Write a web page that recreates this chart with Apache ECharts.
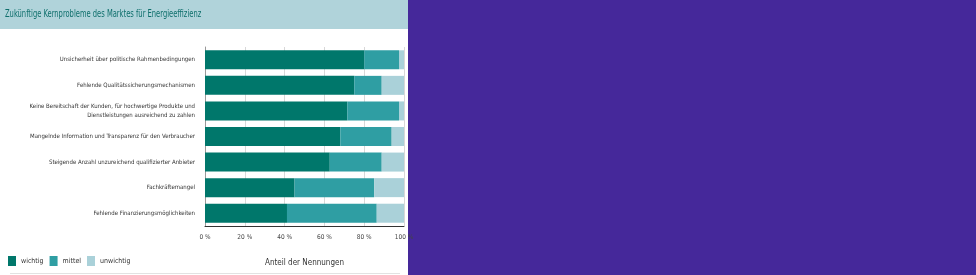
<!DOCTYPE html>
<html><head><meta charset="utf-8">
<script src="https://cdn.jsdelivr.net/npm/echarts@6/dist/echarts.min.js"></script>
<style>html,body{margin:0;padding:0;background:#45289a;}#c{width:976px;height:275px;}</style>
</head><body><div id="c"></div>
<script>
const categories = [
  "Unsicherheit über politische Rahmenbedingungen",
  "Fehlende Qualitätssicherungsmechanismen",
  "Keine Bereitschaft der Kunden, für hochwertige Produkte und\nDienstleistungen ausreichend zu zahlen",
  "Mangelnde Information und Transparenz für den Verbraucher",
  "Steigende Anzahl unzureichend qualifizierter Anbieter",
  "Fachkräftemangel",
  "Fehlende Finanzierungsmöglichkeiten"
];
const wichtig = [80, 75, 71.5, 68, 62.7, 45, 41.2];
const mittel = [17.5, 13.8, 26, 25.8, 26.1, 40, 45.1];
const unwichtig = [2.5, 11.2, 2.5, 6.2, 11.2, 15, 13.7];
const seriesNames = ["wichtig", "mittel", "unwichtig"];
const titleText = "Zukünftige Kernprobleme des Marktes für Energieeffizienz";
const axisName = "Anteil der Nennungen";

const FONT = "'DejaVu Sans Condensed', sans-serif";
const colors = ["#00776b", "#2f9ea3", "#aad1d9"];
const chart = echarts.init(document.getElementById('c'));
const mk = (name, data, i) => ({
  name, type: 'bar', stack: 'a', data, barWidth: 19,
  itemStyle: {color: colors[i]}, emphasis: {disabled: true}
});
chart.setOption({
  animation: false,
  backgroundColor: '#45289a',
  graphic: [
    {type: 'rect', shape: {x: 0, y: 0, width: 408, height: 275}, style: {fill: '#ffffff'}, z: -10},
    {type: 'rect', shape: {x: 0, y: 0, width: 408, height: 29}, style: {fill: '#b0d3da'}, z: -9},
    {type: 'line', shape: {x1: 10, y1: 273.5, x2: 400, y2: 273.5}, style: {stroke: '#e2e2e2', lineWidth: 1}, z: -8},
    {type: 'text', x: 5, y: 9, scaleX: 0.75, style: {text: titleText, fill: '#0e6f6c', font: "10px " + FONT}}
  ],
  grid: {left: 205, right: 572, top: 47, bottom: 49, containLabel: false, outerBoundsMode: 'none'},
  legend: {
    left: 8, top: 256, padding: 0, itemWidth: 8, itemHeight: 10, itemGap: 6, icon: 'rect',
    data: seriesNames,
    textStyle: {fontSize: 7, color: '#333', fontFamily: FONT}
  },
  xAxis: {
    type: 'value', min: 0, max: 100, interval: 20,
    name: axisName, nameLocation: 'middle', nameGap: 33,
    nameTextStyle: {fontSize: 8, color: '#333', fontFamily: FONT},
    axisLabel: {formatter: '{value} %', fontSize: 6.5, color: '#444', fontFamily: FONT, margin: 8},
    axisLine: {show: true, lineStyle: {color: '#333', width: 1}},
    axisTick: {show: false},
    splitLine: {show: true, lineStyle: {color: '#d8d8d8'}}
  },
  yAxis: {
    type: 'category', inverse: true, data: categories,
    axisLine: {show: true, lineStyle: {color: '#999'}},
    axisTick: {show: false},
    axisLabel: {fontSize: 6, color: '#333', fontFamily: FONT, margin: 10, lineHeight: 9}
  },
  series: [mk(seriesNames[0], wichtig, 0), mk(seriesNames[1], mittel, 1), mk(seriesNames[2], unwichtig, 2)]
});
</script></body></html>
